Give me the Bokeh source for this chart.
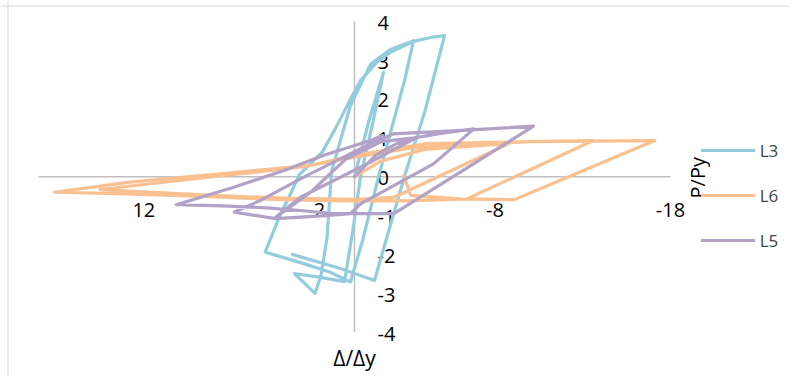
from bokeh.plotting import figure
from bokeh.models import Range1d, Span, Legend, LegendItem
from bokeh.embed import file_html
from bokeh.resources import INLINE
from bokeh.core.properties import value

# ---------------- data ----------------
x_ticks = [12, 2, -8, -18]
x_tick_labels = ["12", "2", "-8", "-18"]
y_ticks = [4, 3, 2, 1, 0, -1, -2, -3, -4]
y_tick_labels = ["4", "3", "2", "1", "0", "-1", "-2", "-3", "-4"]
x_min, x_max = -18, 18
y_min, y_max = -4, 4

L3_x = [0, -0.8, -1.65, -1.0, -0.34, 0.1, 0.57, 1.94, 3.42, 2.25, 1.91, 1.56, 1.31, 0.23, -0.91, -2.05, -3.36,
        -2.85, -1.37, -0.46, 0.23, 1.37, 3.08, 5.09,
        4.25, 3.6, 3.15, 1.84, 0.99, 0.23, -0.34, -1.29, -2.05, -3.36, -4.33, -5.13,
        -4.02, -2.84, -1.79, -1.14, 0.8, 3.53]
L3_y = [0, 1.4, 2.68, 1.3, 0, -1.4, -2.70, -2.59, -2.49, -3.0, -2.54, -1.56, 0.13, 1.83, 2.89, 3.27, 3.50,
        2.47, 0, -1.64, -2.71, -2.46, -2.21, -1.94,
        -1.0, -0.4, 0.05, 0.63, 1.32, 2.0, 2.47, 2.95, 3.2, 3.48, 3.58, 3.63,
        1.70, 0, -1.64, -2.67, -2.36, -2.0]

L6_x = [0, -1.5, -4, -8.8, -4.76, -2.24, 0, 4, 8, 11.5, 14.5,
        11, 7, 3, 0, -3, -7, -10, -13.6,
        -9.14, -6.4, -3, 1, 5, 9, 13, 17.1,
        12.8, 7.8, 2.5, 0, -4.1, -10, -17.1,
        -12.2, -9.1, -6.0, -3.2, -2.8]
L6_y = [0, 0.4, 0.7, 0.85, 0, -0.53, -0.58, -0.55, -0.48, -0.4, -0.33,
        -0.15, 0.05, 0.25, 0.5, 0.72, 0.85, 0.9, 0.93,
        0, -0.57, -0.62, -0.62, -0.58, -0.5, -0.44, -0.40,
        -0.14, 0.07, 0.29, 0.55, 0.85, 0.9, 0.93,
        0, -0.59, -0.57, -0.48, 0.03]

L5_x = [0, -1.2, -2.4, -3.38, -0.72, 3.08, 4.6,
        2.5, 0.5, -1.5, -3.4, -5, -6.8,
        -4.5, -0.34, 0.23, 1.61, 4.51, 6.84,
        5.35, 2.89, -0.91, -2.2, -6.4, -10.2,
        -6.21, -2.24, 1.2, 3.08, 5.0, 7.5, 10.16,
        6.87, 4.02, 1.75, -0.91, -1.6]
L5_y = [0, 0.55, 0.85, 0.97, 0.33, -0.53, -1.08,
        -0.4, 0.45, 0.9, 1.0, 1.12, 1.23,
        0.33, -0.70, -0.95, -1.0, -1.08, -0.91,
        -0.61, -0.01, 0.85, 1.1, 1.2, 1.3,
        0.17, -0.95, -0.95, -0.87, -0.8, -0.75, -0.72,
        -0.27, 0.16, 0.55, 0.93, 1.06]

series = [("L3", L3_x, L3_y, "#93CDDD"),
          ("L6", L6_x, L6_y, "#FAC090"),
          ("L5", L5_x, L5_y, "#B3A2C7")]

# ---------------- figure ----------------
W, H = 790, 376
p = figure(width=W, height=H, output_backend="svg", toolbar_location=None,
           x_range=Range1d(20.1645, -24.835), y_range=Range1d(-5.1396, 4.5325),
           min_border=0, min_border_left=0, min_border_right=0,
           min_border_top=0, min_border_bottom=0)
p.axis.visible = False
p.grid.visible = False
p.outline_line_color = None
p.background_fill_color = "white"
p.border_fill_color = "white"

# chart border (top/left visible)
p.add_layout(Span(location=7.5, location_units="screen", dimension="height",
                  line_color="#d9d9d9", line_width=1))
p.add_layout(Span(location=H - 5.5, location_units="screen", dimension="width",
                  line_color="#d9d9d9", line_width=1))

# axis lines crossing at the origin
p.segment(x0=[x_max, 0], y0=[0, y_max], x1=[x_min, 0], y1=[0, y_min],
          line_color="#bfbfbf", line_width=1.5)

# tick labels
p.text(x=x_ticks, y=[0] * len(x_ticks), text=x_tick_labels, y_offset=33,
       text_align="center", text_baseline="middle",
       text_font=value("Open Sans"), text_font_size="20px", text_color="#000000")
p.text(x=[0] * len(y_ticks), y=y_ticks, text=y_tick_labels, x_offset=23, y_offset=1.5,
       text_align="left", text_baseline="middle",
       text_font=value("Open Sans"), text_font_size="20px", text_color="#000000")

# axis titles
p.text(x=[0], y=[y_min], text=["Δ/Δy"], y_offset=26, text_align="center", text_baseline="middle",
       text_font=value("Open Sans"), text_font_size="21px", text_color="#000000")
p.text(x=[x_min], y=[0], text=["P/Py"], x_offset=27, y_offset=1, angle=1.5708,
       text_align="center", text_baseline="middle",
       text_font=value("Open Sans"), text_font_size="20px", text_color="#000000")

items = []
for name, xs, ys, col in series:
    r = p.line(xs, ys, line_color=col, line_width=3.2, line_join="round", line_cap="round")
    items.append(LegendItem(label=name, renderers=[r]))

legend = Legend(items=items, location=(700.7, 124.5), orientation="vertical",
                glyph_width=54, glyph_height=20, label_height=20, spacing=22,
                label_standoff=5, padding=0, margin=0,
                label_text_font="Open Sans", label_text_font_size="17px",
                border_line_color=None, background_fill_alpha=0)
p.add_layout(legend, "center")

open("out.html", "w").write(file_html(p, INLINE))
